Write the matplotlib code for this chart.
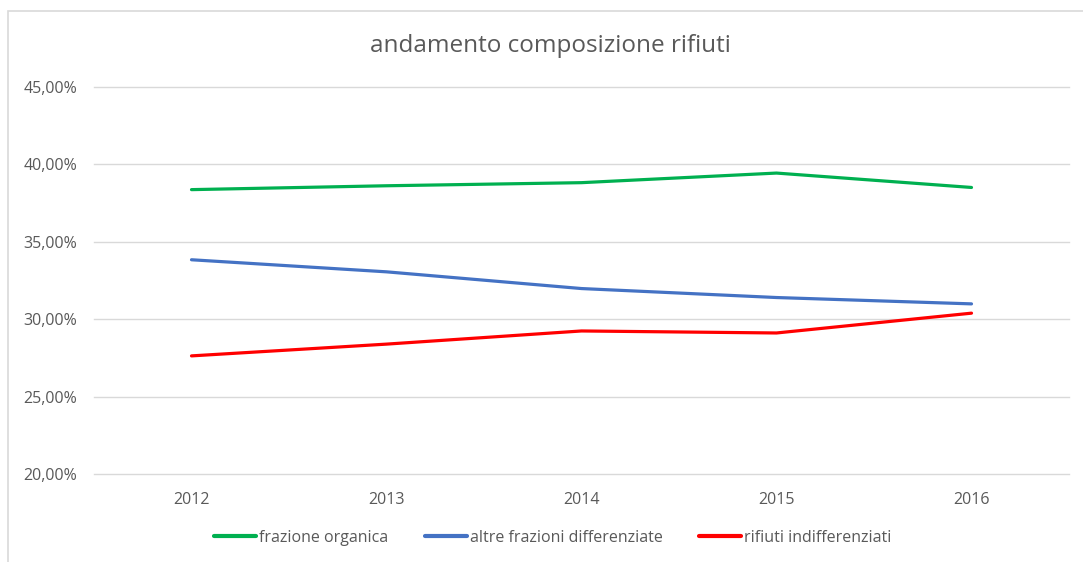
import matplotlib
matplotlib.use("Agg")
import matplotlib.pyplot as plt
from matplotlib.patches import Rectangle
from matplotlib.ticker import FuncFormatter

plt.rcParams['font.family'] = ['Open Sans', 'DejaVu Sans']

years = ['2012', '2013', '2014', '2015', '2016']
organica = [38.37, 38.62, 38.82, 39.44, 38.51]
altre = [33.84, 33.06, 31.98, 31.40, 30.99]
indiff = [27.63, 28.39, 29.24, 29.11, 30.39]

labels = ['frazione organica', 'altre frazioni differenziate', 'rifiuti indifferenziati']
colors = ['#00B050', '#4472C4', '#FF0000']

grey = '#595959'

fig = plt.figure(figsize=(10.83, 5.62), dpi=100)
# chart border
fig.patches.append(Rectangle((8 / 1083, -0.1), 1.2, 1 - 11 / 562 + 0.1,
                             transform=fig.transFigure, fill=False,
                             edgecolor='#D9D9D9', linewidth=1.2))

ax = fig.add_axes([94 / 1083, 1 - 474 / 562, (1069 - 94) / 1083, (474 - 87) / 562])
x = list(range(len(years)))
for vals, lab, col in zip([organica, altre, indiff], labels, colors):
    ax.plot(x, vals, color=col, linewidth=2.3, label=lab, solid_capstyle='round')

ax.set_xlim(-0.5, len(years) - 0.5)
ax.set_ylim(20, 45)
ax.set_yticks([20, 25, 30, 35, 40, 45])
ax.yaxis.set_major_formatter(FuncFormatter(lambda v, p: f"{v:.2f}%".replace('.', ',')))
ax.set_xticks(x)
ax.set_xticklabels(years)
ax.grid(axis='y', color='#D9D9D9', linewidth=1)
for gl in ax.get_ygridlines():
    gl.set_clip_on(False)
ax.set_axisbelow(True)
for s in ax.spines.values():
    s.set_visible(False)
ax.tick_params(length=0, colors=grey, labelsize=11.5)
ax.tick_params(axis='y', pad=12)
ax.tick_params(axis='x', pad=13)

fig.text(550 / 1083, 1 - 46 / 562, 'andamento composizione rifiuti', ha='center',
         va='center', fontsize=17.5, color=grey)

leg = fig.legend(loc='center', bbox_to_anchor=(553 / 1083, 1 - 538 / 562), ncol=3,
                 frameon=False, fontsize=11.5, handlelength=2.6, handletextpad=0.2,
                 columnspacing=2.3)
for t in leg.get_texts():
    t.set_color(grey)
for l in leg.get_lines():
    l.set_linewidth(3)

fig.savefig('out.png', dpi=100)
